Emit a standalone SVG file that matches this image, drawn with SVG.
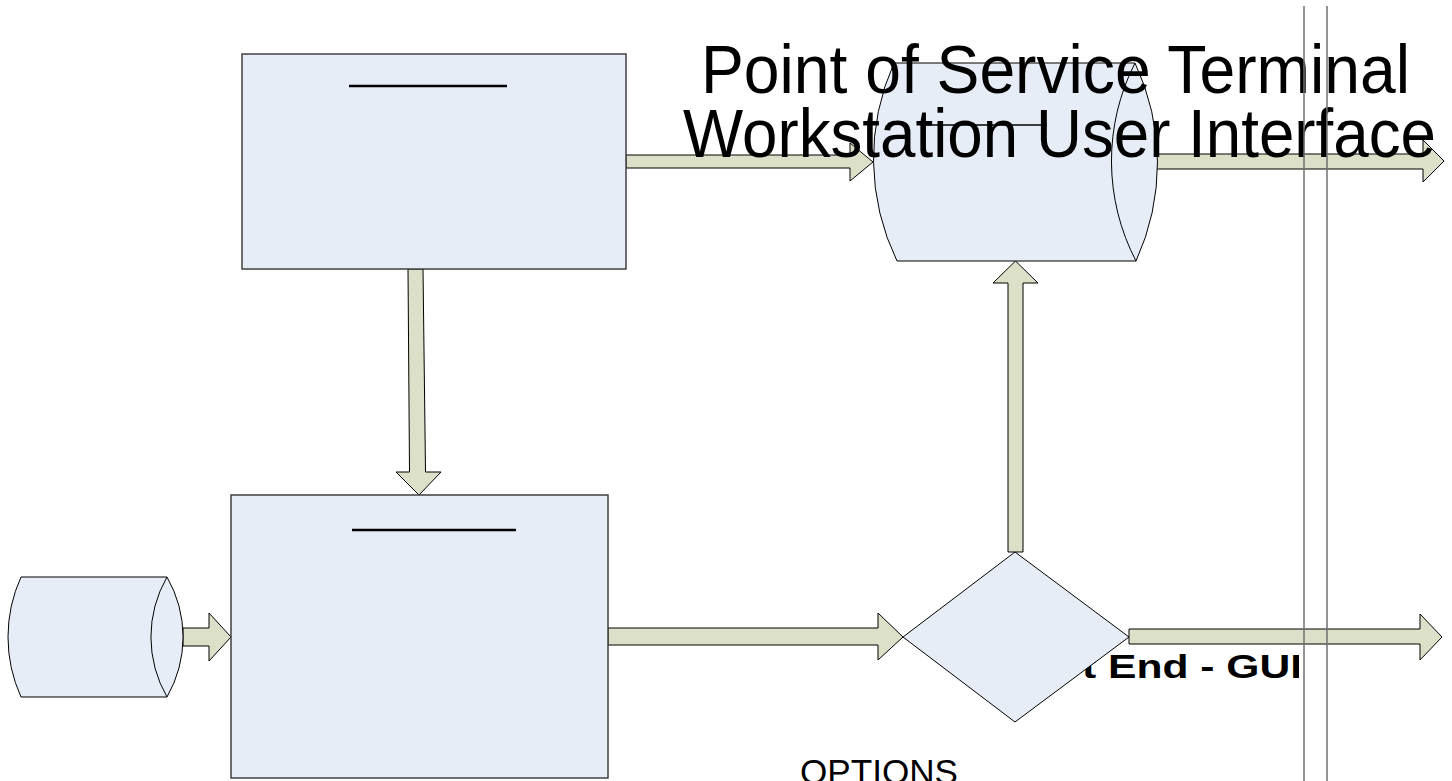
<svg xmlns="http://www.w3.org/2000/svg" width="1452" height="781" viewBox="0 0 1452 781">
<style>
.box{fill:#E6EDF7;stroke:#404040;stroke-width:1.5}
.arrow{fill:#DDE0C8;stroke:#000;stroke-width:1}
.bar{stroke:#000;stroke-width:2.5}
.shape{fill:#E6EDF7;stroke:#000;stroke-width:1}
.vl{stroke:#707070;stroke-width:1.5}
.t{font-family:"Liberation Sans",Arial,sans-serif;fill:#000}
</style>
<defs>
<clipPath id="guiclip"><rect x="0" y="0" width="1299" height="781"/></clipPath>
</defs>
<text class="t" x="1082" y="678" font-size="34" font-weight="bold" textLength="220" lengthAdjust="spacingAndGlyphs" clip-path="url(#guiclip)">t End - GUI</text>
<g id="connectors">
<polygon class="arrow" points="626,155 850,155 850,143 873,162 850,181 850,168 626,168"/>
<polygon class="arrow" points="408,269 423,269 425.5,472 441,472 419,495 396,472 409.5,472"/>
<polygon class="arrow" points="183,628 209,628 209,613 231,637 209,661 209,646 183,646"/>
<polygon class="arrow" points="608,628 878,628 878,613 903,637 878,660 878,645 608,645"/>
<polygon class="arrow" points="1008,552 1008,283 993,283 1015.5,261 1038,283 1023,283 1023,552"/>
<polygon class="arrow" points="1136,154 1423,154 1423,140 1444,161 1423,182 1423,169 1136,169"/>
<polygon class="arrow" points="1129,629 1420,629 1420,614 1442,637 1420,660 1420,644 1129,644"/>
</g>
<g id="node-top-box">
<rect class="box" x="242" y="54" width="384" height="215"/>
<line class="bar" x1="349" y1="86" x2="507" y2="86"/>
</g>
<g id="node-bottom-box">
<rect class="box" x="231" y="495" width="377" height="283"/>
<line class="bar" x1="352" y1="530" x2="516" y2="530"/>
</g>
<g id="node-left-cylinder">
<path class="shape" d="M21 577 L167 577 A120 120 0 0 1 167 697 L21 697 A145 145 0 0 1 21 577 Z"/>
<path class="shape" d="M167 577 A120 120 0 0 0 167 697"/>
</g>
<g id="node-top-cylinder">
<path class="shape" d="M894 63 L1135 63 A234 234 0 0 1 1136 261 L897 261 A234 234 0 0 1 894 63 Z"/>
<path class="shape" d="M1135 63 A216 216 0 0 0 1136 261"/>
<line stroke="#000" stroke-width="1.5" x1="925" y1="125" x2="1047" y2="125"/>
</g>
<g id="node-diamond">
<polygon class="shape" points="903,637 1015,552 1129,637 1015,722"/>
</g>
<g id="labels">
<text class="t" x="701" y="93" font-size="69" textLength="709" lengthAdjust="spacingAndGlyphs">Point of Service Terminal</text>
<text class="t" x="683" y="157" font-size="69" textLength="753" lengthAdjust="spacingAndGlyphs">Workstation User Interface</text>
<text class="t" x="800" y="784" font-size="35" textLength="158" lengthAdjust="spacingAndGlyphs">OPTIONS</text>
</g>
<g id="dividers">
<line class="vl" x1="1304" y1="6" x2="1304" y2="781"/>
<line class="vl" x1="1327" y1="6" x2="1327" y2="781"/>
</g>
</svg>
